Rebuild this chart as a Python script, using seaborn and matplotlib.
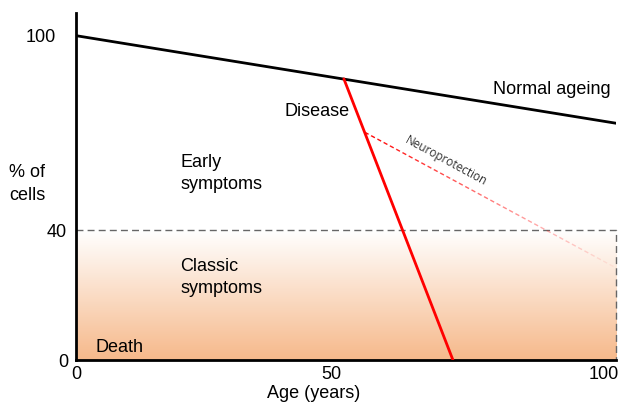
import numpy as np
import pandas as pd
import matplotlib
matplotlib.use("Agg")
import matplotlib.pyplot as plt
import seaborn as sns
from matplotlib.colors import LinearSegmentedColormap
from matplotlib.collections import LineCollection
from matplotlib.transforms import ScaledTranslation

sns.set_style("white")
plt.rcParams['font.family'] = ['Liberation Sans', 'DejaVu Sans']
plt.rcParams['text.color'] = 'black'
plt.rcParams['xtick.color'] = 'black'
plt.rcParams['ytick.color'] = 'black'
plt.rcParams['axes.labelcolor'] = 'black'

# --- data ---
age_normal = [0, 100]
cells_normal = [100, 73]
age_disease = [49.6, 69.8]
cells_disease = [86.7, 0]
age_neuro = [53.5, 100]
cells_neuro = [70.2, 28.4]
threshold = 40
x_ticks = [0, 50, 100]
y_ticks = [0, 40, 100]

fig = plt.figure(figsize=(6.21, 4.05), dpi=100)
ax = fig.add_axes([0.1224, 0.111, 0.8696, 0.857])

# gradient band for classic symptoms
cmap = LinearSegmentedColormap.from_list("band", ["#ffffff", "#f6b98b"])
grad = np.linspace(0, 1, 256).reshape(-1, 1)
ax.imshow(grad, extent=[0, 100, 0, threshold], origin="upper", aspect="auto",
          cmap=cmap, zorder=0)
ax.plot([0, 100, 100], [threshold, threshold, 0], ls=(0, (5, 3)), color="#666666",
        lw=1, zorder=1, clip_on=False)

normal = pd.DataFrame({"age": age_normal, "cells": cells_normal})
disease = pd.DataFrame({"age": age_disease, "cells": cells_disease})
sns.lineplot(data=normal, x="age", y="cells", color="black", lw=2, ax=ax, zorder=3)
sns.lineplot(data=disease, x="age", y="cells", color="#ff0000", lw=2, ax=ax, zorder=4)

# neuroprotection: dashed red fading out
n = 40
xs = np.linspace(age_neuro[0], age_neuro[1], n + 1)
ys = np.linspace(cells_neuro[0], cells_neuro[1], n + 1)
segs = [[(xs[i], ys[i]), (xs[i + 1], ys[i + 1])] for i in range(n)]
fade = np.linspace(1, 0.05, n)
cols = [(1, 0, 0, a) for a in fade]
lc = LineCollection(segs, colors=cols, linewidths=1, linestyles=(0, (3, 2)), zorder=2)
ax.add_collection(lc)
ax.text(68.5, 61.3, "Neuroprotection", rotation=-28.5, rotation_mode="anchor",
        ha="center", va="center", fontsize=8.5, color="#333333",
        family=["Open Sans", "DejaVu Sans"])

# labels
fs = 13
ax.text(99, 83.3, "Normal ageing", ha="right", va="center", fontsize=fs)
ax.text(50.7, 76.5, "Disease", ha="right", va="center", fontsize=fs)
ax.text(19.3, 57.5, "Early\nsymptoms", ha="left", va="center", fontsize=fs, linespacing=1.4)
ax.text(19.3, 25.5, "Classic\nsymptoms", ha="left", va="center", fontsize=fs, linespacing=1.4)
ax.text(3.7, 4, "Death", ha="left", va="center", fontsize=fs)

ax.set_xlim(0, 100)
ax.set_ylim(0, 107)
ax.set_xticks(x_ticks)
ax.set_yticks(y_ticks)
ax.tick_params(length=0, labelsize=fs)
ax.tick_params(axis="y", pad=5.5)
ax.tick_params(axis="x", pad=4)
# tick labels sit a little off their ticks in the reference
for lab, dx in zip(ax.get_xticklabels(), [0, -15, -12]):
    lab.set_transform(lab.get_transform() + ScaledTranslation(dx / 100, 0, fig.dpi_scale_trans))
for lab, dx in zip(ax.get_yticklabels(), [0, -2, -12]):
    lab.set_transform(lab.get_transform() + ScaledTranslation(dx / 100, 0, fig.dpi_scale_trans))
ax.set_xlabel("Age (years)", fontsize=fs)
ax.xaxis.set_label_coords(0.44, -0.072)
ax.set_ylabel("")
fig.text(9 / 621, 1 - 184 / 405, "% of\ncells", ha="left", va="center", fontsize=fs,
         linespacing=1.4)

sns.despine(ax=ax)
for side in ["left", "bottom"]:
    ax.spines[side].set_linewidth(2)
    ax.spines[side].set_color("black")

fig.savefig("out.png", dpi=100)
